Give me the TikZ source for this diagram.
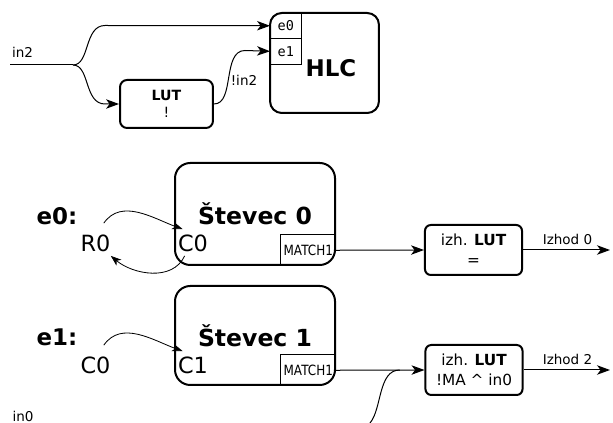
\documentclass[tikz,border=0pt]{standalone}
\usepackage{fontspec}
\setmainfont{DejaVu Sans}
\setmonofont{DejaVu Sans Mono}
\newfontfamily\condfont{DejaVu Sans}[FakeStretch=0.85]
\usetikzlibrary{arrows.meta}
\newcommand{\fsz}[2]{\fontsize{#1}{#2}\selectfont}
\tikzset{
  box/.style={rectangle, rounded corners=#1, draw=black, line width=1.7pt,
              inner sep=0pt, align=center},
  cell/.style={rectangle, inner sep=0pt},
  wire/.style={line width=0.85pt},
  arr/.style={-{Stealth[length=11pt, width=8pt, inset=3pt]}, line width=0.85pt},
  sarr/.style={-{Stealth[length=9pt, width=6.5pt, inset=2.5pt]}, line width=0.7pt},
  lbl/.style={inner sep=1pt, font=\fsz{11.5}{13}},
  big/.style={inner sep=1pt, font=\fsz{19}{22}},
}

\begin{document}
\begin{tikzpicture}[x=0.85pt, y=0.85pt]
  \useasboundingbox (0,0) rectangle (613,423);

  % in2 -> HLC
  \node[box=10pt, minimum width=92.6pt, minimum height=85pt] (hlc) at (324.5,360) {};
  \node[font=\fsz{19.5}{22}\bfseries] (hlcname) at (331,355) {HLC};
  \node[cell, anchor=north west, minimum width=26.4pt, minimum height=21.3pt,
        font=\ttfamily\fsz{11.5}{13}] (e0) at (270,410) {e0};
  \node[cell, anchor=north west, minimum width=26.4pt, minimum height=21.3pt,
        font=\ttfamily\fsz{11.5}{13}] (e1) at (e0.south west) {e1};
  \draw[wire] (e0.north east) -- (e1.south east) -- (e1.south west);
  \draw[wire] (e0.south west) -- (e0.south east);

  \node[box=6pt, minimum width=79pt, minimum height=40.8pt, font=\fsz{12}{15}] (lut)
       at (166.5,319) {\textbf{LUT}\\!};
  \coordinate (src) at (10,358);
  \coordinate (fork) at (73,358);
  \node[lbl] (in2) at (22.5,371) {in2};
  \draw[wire] (src) -- (fork);
  \draw[arr] (fork) .. controls (90,358) and (84,397.5) .. (105,397.5) -- (e0.west);
  \draw[arr] (fork) .. controls (90,358) and (84,319) .. (105,319) -- (lut.west);
  \draw[arr] (lut.east) .. controls (235,319) and (222,372.5) .. (245,372.5) -- (e1.west);
  \node[lbl] (nin2) at (244,343) {!in2};

  % counter 0
  \node[box=13pt, minimum width=136pt, minimum height=86.7pt, font=\fsz{20}{24}\bfseries] (st0)
       at (255,209) {Števec 0};
  \node[cell, anchor=south east, minimum width=46.75pt, minimum height=26.35pt,
        font=\condfont\fsz{12}{14}] (m0) at (st0.south east) {MATCH1};
  \draw[wire] (m0.south west) |- (m0.north east);
  \node[font=\fsz{19.5}{22}\bfseries] (le0) at (57,207) {e0:};
  \node[big] (r0) at (95.5,180) {R0};
  \node[big] (c0) at (193,180) {C0};
  \draw[sarr] ([shift={(-8,10)}]r0.north east) to[out=55, in=160]
              ([shift={(6,4)}]c0.north west);
  \draw[sarr] ([shift={(8,-3)}]c0.south west) to[out=-115, in=-40]
              ([shift={(-1,-3)}]r0.south east);

  \node[box=5pt, minimum width=82.5pt, minimum height=42.5pt, font=\fsz{13}{17}] (out0)
       at (473.5,173) {izh. \textbf{LUT}\\=};
  \coordinate (o0) at (610,173);
  \draw[arr] (m0.east) -- (out0.west);
  \draw[arr] (out0.east) -- (o0);
  \node[lbl] (iz0) at (567.5,184) {Izhod 0};

  % counter 1
  \node[box=13pt, minimum width=136pt, minimum height=84.15pt, font=\fsz{20}{24}\bfseries] (st1)
       at (255,87.5) {Števec 1};
  \node[cell, anchor=south east, minimum width=46.75pt, minimum height=26.35pt,
        font=\condfont\fsz{12}{14}] (m1) at (st1.south east) {MATCH1};
  \draw[wire] (m1.south west) |- (m1.north east);
  \node[font=\fsz{19.5}{22}\bfseries] (le1) at (57,86) {e1:};
  \node[big] (c0b) at (95.5,58) {C0};
  \node[big] (c1) at (193,58) {C1};
  \draw[sarr] ([shift={(-8,10)}]c0b.north east) to[out=55, in=160]
              ([shift={(6,4)}]c1.north west);

  \node[box=5pt, minimum width=82.5pt, minimum height=42.5pt, font=\fsz{13}{17}] (out1)
       at (474,53) {izh. \textbf{LUT}\\!MA \textasciicircum{} in0};
  \coordinate (o1) at (610,53);
  \draw[arr] (m1.east) -- (out1.west);
  \draw[arr] (out1.east) -- (o1);
  \node[lbl] (iz2) at (567.5,64) {Izhod 2};

  % in0
  \node[lbl] (in0) at (23,7) {in0};
  \coordinate (in0src) at (370,0);
  \coordinate (jn) at ([xshift=-21pt]out1.west);
  \draw[wire] (in0src) .. controls (382,14) and (378,53) .. (jn);
\end{tikzpicture}
\end{document}
